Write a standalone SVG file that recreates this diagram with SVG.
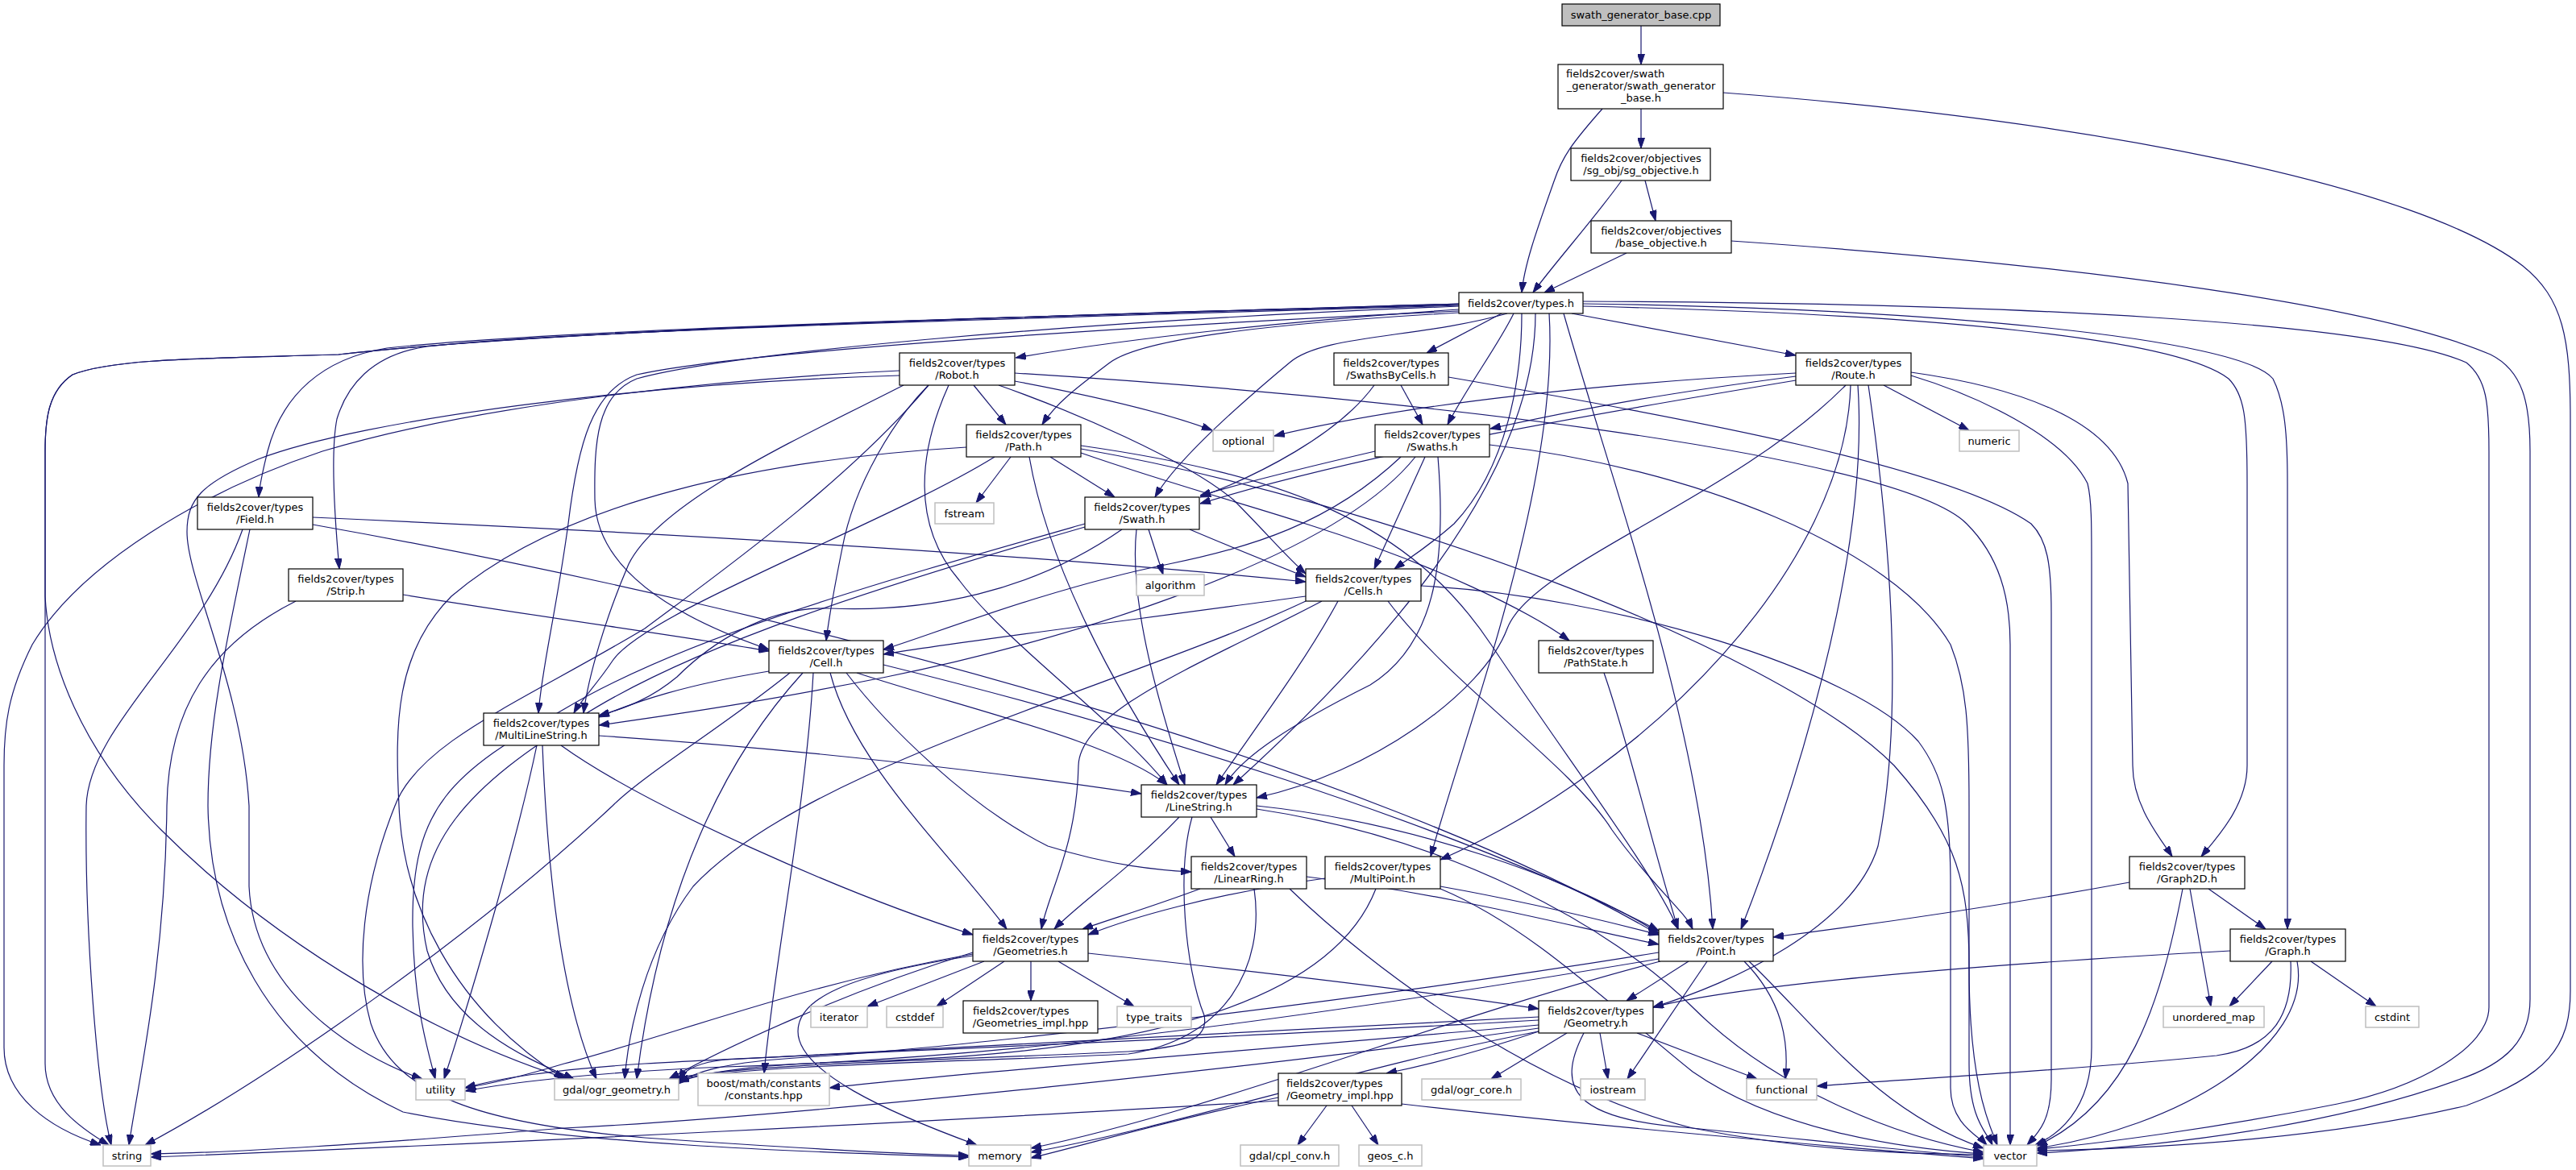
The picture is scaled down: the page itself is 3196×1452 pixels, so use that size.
<svg xmlns="http://www.w3.org/2000/svg" width="3196" height="1452" viewBox="0 0 3196 1452">
<defs>
<marker id="a" viewBox="0 0 13 9" refX="13" refY="4.5" markerWidth="13" markerHeight="9" markerUnits="userSpaceOnUse" orient="auto"><path d="M0,0 L13,4.5 L0,9 z" fill="#191970" stroke="#191970" stroke-width="1"/></marker>
<style>
.e path{fill:none;stroke:#191970;stroke-width:1.2;marker-end:url(#a)}
text{font-family:'DejaVu Sans','Liberation Sans',sans-serif;font-size:13px;text-anchor:middle;fill:#000}
.l{text-anchor:start}
.f{fill:#fff;stroke:#000;stroke-width:1.2}
.x{fill:#fff;stroke:#bfbfbf;stroke-width:1.5}
.r{fill:#bfbfbf;stroke:#000;stroke-width:1.2}
</style>
</defs>
<rect width="3196" height="1452" fill="#fff"/>
<g id="edges" class="e">
<path d="M2036,32 L2036,80"/>
<path d="M2036,135 L2036,184"/>
<path d="M1988,135 C1950,178 1938,195 1928,225 C1905,290 1891,330 1888,363"/>
<path d="M2138,115 C2600,150 3000,230 3130,330 C3180,370 3189,420 3189,520 L3189,1230 C3189,1300 3160,1335 3060,1372 C2900,1410 2700,1425 2527,1428"/>
<path d="M2041,224 L2054,274"/>
<path d="M2012,224 C1975,275 1930,325 1902,363"/>
<path d="M2018,314 L1916,363"/>
<path d="M2148,299 C2600,330 2950,380 3090,440 C3130,460 3139,500 3139,560 L3139,1240 C3139,1290 3110,1320 3050,1340 C2900,1395 2700,1422 2527,1431"/>
<path d="M1810,384 C1600,398 1400,420 1260,444"/>
<path d="M1863,389 L1770,438"/>
<path d="M1950,389 L2228,441"/>
<path d="M1810,388 C1600,400 1420,418 1377,450 C1340,478 1310,500 1293,527"/>
<path d="M1878,389 C1858,430 1820,480 1796,527"/>
<path d="M1870,389 C1760,420 1640,415 1600,450 C1540,500 1460,570 1433,617"/>
<path d="M1888,389 C1888,470 1870,580 1804,650 C1770,680 1745,695 1730,706"/>
<path d="M1810,380 C1300,400 900,440 790,470 C740,490 737,550 738,620 C740,700 820,760 954,806"/>
<path d="M1810,378 C1300,392 700,408 480,432 C400,445 350,490 332,560 C326,585 322,600 321,617"/>
<path d="M1810,379 C1300,394 700,410 530,430 C460,440 430,480 418,520 C410,560 415,640 421,706"/>
<path d="M1810,377 C1300,392 700,408 420,440 C250,445 140,445 90,465 C60,485 56,520 56,560 L56,1320 C56,1370 100,1400 135,1421"/>
<path d="M1810,377 C1300,392 700,408 420,440 C250,445 140,445 90,465 C60,485 56,520 56,560 L56,740 C60,820 100,930 200,1030 C350,1180 550,1290 705,1339"/>
<path d="M1810,386 C1300,410 900,440 790,465 C735,485 717,550 705,650 C690,760 672,830 668,885"/>
<path d="M1905,389 C1905,600 1700,820 1530,974"/>
<path d="M1922,389 C1935,600 1820,900 1775,1063"/>
<path d="M1940,389 C2000,600 2110,900 2125,1153"/>
<path d="M1964,380 C2400,390 2700,420 2765,470 C2785,490 2788,520 2788,600 L2788,950 C2788,1000 2750,1040 2731,1063"/>
<path d="M1964,377 C2400,383 2780,420 2820,470 C2835,500 2838,540 2838,600 L2838,1153"/>
<path d="M1964,374 C2500,376 2950,400 3060,450 C3085,470 3088,500 3088,560 L3088,1250 C3088,1300 3000,1350 2900,1370 C2750,1400 2600,1420 2527,1426"/>
<path d="M1208,478 L1248,527"/>
<path d="M1259,473 C1350,490 1440,510 1504,534"/>
<path d="M1239,478 C1330,510 1470,570 1530,620 C1570,660 1595,690 1620,712"/>
<path d="M1152,478 C1110,520 1060,600 1045,680 C1035,730 1028,770 1025,795"/>
<path d="M1121,478 C1000,540 820,620 780,700 C750,770 730,840 724,885"/>
<path d="M1177,478 C1140,560 1130,650 1190,720 C1250,800 1380,890 1448,974"/>
<path d="M1116,460 C900,470 600,500 400,560 C250,610 100,700 40,800 C10,860 5,900 5,950 L5,1300 C5,1360 60,1400 125,1421"/>
<path d="M1116,466 C800,475 450,520 320,570 C250,600 232,620 232,660 C232,720 300,850 309,1000 L309,1100 C315,1230 440,1310 524,1339"/>
<path d="M1152,478 C1050,600 880,720 800,780 C650,870 520,920 490,1000 C450,1100 440,1200 460,1270 C490,1360 600,1395 800,1412 C1000,1426 1120,1432 1202,1434"/>
<path d="M1259,463 C1700,490 2350,560 2440,650 C2480,690 2494,740 2494,800 L2494,1421"/>
<path d="M1738,478 L1765,527"/>
<path d="M1705,478 C1660,540 1560,590 1489,617"/>
<path d="M1797,468 C2100,520 2420,580 2520,650 C2540,670 2545,700 2545,760 L2545,1340 C2545,1390 2530,1405 2515,1421"/>
<path d="M2228,463 C2000,475 1750,500 1581,541"/>
<path d="M2228,467 C2050,490 1950,510 1849,532"/>
<path d="M2228,472 C2000,510 1700,560 1489,625"/>
<path d="M2337,478 L2443,534"/>
<path d="M2371,462 C2500,480 2620,520 2640,600 L2646,950 C2646,1000 2680,1040 2695,1063"/>
<path d="M2371,466 C2450,490 2560,540 2590,600 C2595,620 2595,650 2595,700 L2595,1300 C2595,1380 2550,1410 2525,1421"/>
<path d="M2290,478 C2150,620 1900,700 1870,780 C1840,860 1700,960 1559,990"/>
<path d="M2296,478 C2290,700 2050,950 1787,1067"/>
<path d="M2305,478 C2320,700 2220,1000 2160,1153"/>
<path d="M2318,478 C2350,700 2360,900 2330,1050 C2300,1150 2150,1220 2051,1250"/>
<path d="M1254,567 L1211,624"/>
<path d="M1303,567 L1383,617"/>
<path d="M1234,567 C1100,650 800,760 760,820 C740,850 720,870 712,885"/>
<path d="M1277,567 C1300,700 1380,850 1463,974"/>
<path d="M1341,562 C1450,600 1560,630 1620,650 C1780,700 1900,760 1947,795"/>
<path d="M1341,553 C1600,590 1750,650 1850,800 C1950,950 2050,1080 2082,1153"/>
<path d="M1341,557 C1700,620 2200,800 2350,950 C2430,1040 2443,1100 2443,1200 C2443,1350 2470,1400 2478,1421"/>
<path d="M1199,555 C950,570 700,620 560,740 C490,810 490,900 495,1000 C500,1120 560,1250 700,1339"/>
<path d="M1706,560 C1620,580 1540,600 1489,615"/>
<path d="M1768,567 L1705,706"/>
<path d="M1738,567 C1650,650 1550,680 1450,700 C1300,730 1150,790 1096,806"/>
<path d="M1784,567 C1795,700 1780,800 1700,850 C1600,900 1540,940 1520,974"/>
<path d="M1756,567 C1650,700 1300,800 1100,840 C950,870 850,885 743,900"/>
<path d="M1848,552 C2100,580 2350,680 2420,800 C2440,850 2443,900 2443,1000 L2443,1320 C2443,1390 2465,1405 2472,1421"/>
<path d="M388,642 C900,665 1300,690 1620,722"/>
<path d="M388,651 C1000,760 1700,950 2058,1160"/>
<path d="M301,657 C250,800 110,900 107,1000 C105,1150 120,1350 138,1421"/>
<path d="M310,657 C280,800 258,900 258,1000 C260,1150 330,1300 500,1380 C700,1420 1000,1430 1202,1436"/>
<path d="M1425,657 L1443,713"/>
<path d="M1476,657 C1530,680 1580,700 1620,716"/>
<path d="M1392,657 C1280,735 1150,760 1030,755 C950,752 880,800 840,840 C810,865 780,878 743,888"/>
<path d="M1410,657 C1400,750 1440,880 1470,974"/>
<path d="M1346,650 C1100,720 850,790 700,880 C560,960 510,1000 512,1150 C514,1250 530,1300 540,1339"/>
<path d="M1346,654 C1100,725 860,800 720,890 C590,970 500,1050 530,1180 C560,1280 670,1320 712,1339"/>
<path d="M500,738 C700,770 850,790 954,808"/>
<path d="M367,746 C260,800 209,880 207,1000 C205,1200 170,1350 160,1421"/>
<path d="M1620,740 C1400,770 1200,795 1096,812"/>
<path d="M1660,746 C1620,820 1560,900 1509,974"/>
<path d="M1640,746 C1500,820 1340,880 1338,950 C1336,1050 1300,1110 1292,1153"/>
<path d="M1722,746 C1800,850 1950,950 2000,1030 C2050,1100 2090,1130 2100,1153"/>
<path d="M1763,727 C2000,740 2300,830 2380,920 C2410,960 2420,1000 2420,1100 L2420,1350 C2420,1395 2455,1410 2465,1421"/>
<path d="M1620,746 C1400,850 1000,950 860,1100 C800,1180 780,1280 775,1339"/>
<path d="M954,833 C850,850 790,870 743,890"/>
<path d="M1063,835 C1200,880 1380,920 1448,974"/>
<path d="M1050,835 C1100,900 1200,1000 1300,1050 C1380,1075 1440,1080 1478,1082"/>
<path d="M1030,835 C1060,950 1180,1060 1249,1153"/>
<path d="M1096,825 C1400,900 1800,1020 2058,1155"/>
<path d="M996,835 C900,940 820,1100 790,1339"/>
<path d="M1009,835 C1000,1000 960,1200 948,1332"/>
<path d="M980,835 C900,900 800,960 760,1000 C600,1150 350,1330 180,1421"/>
<path d="M1990,835 C2020,920 2050,1050 2082,1153"/>
<path d="M743,913 C1000,930 1250,960 1416,985"/>
<path d="M696,925 C800,1000 1050,1110 1207,1160"/>
<path d="M666,925 C640,1050 580,1250 551,1339"/>
<path d="M673,925 C680,1100 700,1250 740,1339"/>
<path d="M1502,1014 L1532,1063"/>
<path d="M1463,1014 C1400,1080 1340,1120 1308,1153"/>
<path d="M1559,1000 C1750,1020 1950,1090 2058,1158"/>
<path d="M1479,1014 C1460,1080 1470,1200 1494,1260 C1500,1290 1470,1300 1400,1305 C1200,1315 950,1318 830,1339"/>
<path d="M1559,1004 C1800,1040 2000,1150 2100,1250 C2200,1350 2350,1410 2461,1430"/>
<path d="M1489,1103 C1430,1125 1380,1140 1343,1153"/>
<path d="M1621,1088 C1800,1110 1950,1150 2058,1172"/>
<path d="M1556,1103 C1570,1200 1520,1290 1400,1308 C1200,1318 950,1320 835,1340"/>
<path d="M1600,1103 C1700,1200 1900,1350 2100,1400 C2250,1430 2380,1432 2461,1433"/>
<path d="M1644,1090 C1500,1110 1400,1140 1350,1160"/>
<path d="M1787,1100 C1900,1120 2000,1145 2058,1160"/>
<path d="M1707,1103 C1650,1250 1400,1305 1100,1316 C950,1320 880,1328 842,1343"/>
<path d="M1787,1103 C1900,1150 2000,1250 2100,1330 C2200,1400 2350,1425 2461,1432"/>
<path d="M2642,1095 C2450,1130 2300,1150 2200,1163"/>
<path d="M2740,1103 L2811,1153"/>
<path d="M2717,1103 L2743,1249"/>
<path d="M2708,1103 C2680,1250 2640,1370 2527,1422"/>
<path d="M1221,1193 L1076,1249"/>
<path d="M1246,1193 L1162,1249"/>
<path d="M1279,1193 L1279,1242"/>
<path d="M1313,1193 L1407,1249"/>
<path d="M1350,1183 C1600,1210 1800,1235 1909,1252"/>
<path d="M1207,1182 C1050,1230 900,1300 830,1339"/>
<path d="M1207,1184 C1000,1220 850,1280 700,1320 C650,1335 610,1345 577,1350"/>
<path d="M1207,1186 C1050,1210 990,1240 990,1280 C990,1330 1100,1380 1212,1421"/>
<path d="M2095,1193 L2018,1242"/>
<path d="M2118,1193 L2019,1339"/>
<path d="M2164,1193 C2210,1240 2220,1290 2215,1339"/>
<path d="M2170,1193 C2260,1280 2330,1380 2461,1425"/>
<path d="M2058,1182 C1700,1240 1200,1300 1000,1312 C900,1318 860,1330 842,1345"/>
<path d="M2058,1190 C1700,1250 1300,1312 900,1324 C750,1330 640,1342 577,1354"/>
<path d="M2060,1193 C1800,1260 1500,1380 1279,1425"/>
<path d="M2819,1193 L2766,1249"/>
<path d="M2867,1193 L2948,1249"/>
<path d="M2842,1193 C2845,1260 2820,1300 2750,1310 C2550,1330 2350,1340 2254,1348"/>
<path d="M2850,1193 C2870,1300 2700,1400 2527,1425"/>
<path d="M2767,1180 C2400,1200 2150,1225 2051,1250"/>
<path d="M1909,1280 C1850,1300 1780,1320 1720,1332"/>
<path d="M1944,1282 L1850,1339"/>
<path d="M1985,1282 L1995,1339"/>
<path d="M2031,1282 L2180,1339"/>
<path d="M1965,1282 C1930,1350 1950,1390 2100,1400 C2250,1415 2380,1430 2461,1436"/>
<path d="M1909,1262 C1500,1285 1100,1305 900,1315 C870,1318 850,1326 842,1340"/>
<path d="M1909,1266 C1500,1290 1000,1308 800,1320 C680,1328 620,1338 577,1350"/>
<path d="M1909,1272 C1600,1300 1200,1330 1029,1350"/>
<path d="M1909,1276 C1600,1320 1000,1385 700,1400 C450,1420 300,1430 187,1432"/>
<path d="M1909,1280 C1700,1320 1450,1400 1279,1430"/>
<path d="M1646,1372 L1610,1421"/>
<path d="M1677,1372 L1710,1421"/>
<path d="M1739,1370 C2000,1400 2300,1425 2461,1438"/>
<path d="M1586,1362 C1450,1390 1350,1420 1279,1437"/>
<path d="M1586,1366 C1200,1390 600,1420 187,1436"/>
</g>
<g id="nodes">
<g id="n_cpp"><rect class="r" x="1938" y="5" width="196" height="27"/><text x="2036" y="23">swath_generator_base.cpp</text></g>
<g id="n_sgb"><rect class="f" x="1933" y="80" width="205" height="55"/><text class="l" x="1943" y="96">fields2cover/swath</text><text x="2036" y="111">_generator/swath_generator</text><text x="2036" y="126">_base.h</text></g>
<g id="n_sgo"><rect class="f" x="1949" y="184" width="173" height="40"/><text x="2036" y="200.5">fields2cover/objectives</text><text x="2036" y="215.5">/sg_obj/sg_objective.h</text></g>
<g id="n_bo"><rect class="f" x="1974" y="274" width="174" height="40"/><text x="2061" y="290.5">fields2cover/objectives</text><text x="2061" y="305.5">/base_objective.h</text></g>
<g id="n_types"><rect class="f" x="1810" y="363" width="154" height="26"/><text x="1887" y="380.5">fields2cover/types.h</text></g>
<g id="n_robot"><rect class="f" x="1116" y="438" width="143" height="40"/><text x="1187.5" y="454.5">fields2cover/types</text><text x="1187.5" y="469.5">/Robot.h</text></g>
<g id="n_sbc"><rect class="f" x="1655" y="438" width="142" height="40"/><text x="1726" y="454.5">fields2cover/types</text><text x="1726" y="469.5">/SwathsByCells.h</text></g>
<g id="n_route"><rect class="f" x="2228" y="438" width="143" height="40"/><text x="2299.5" y="454.5">fields2cover/types</text><text x="2299.5" y="469.5">/Route.h</text></g>
<g id="n_path"><rect class="f" x="1199" y="527" width="142" height="40"/><text x="1270" y="543.5">fields2cover/types</text><text x="1270" y="558.5">/Path.h</text></g>
<g id="n_optional"><rect class="x" x="1505" y="534" width="75" height="26"/><text x="1542.5" y="551.5">optional</text></g>
<g id="n_swaths"><rect class="f" x="1706" y="527" width="142" height="40"/><text x="1777" y="543.5">fields2cover/types</text><text x="1777" y="558.5">/Swaths.h</text></g>
<g id="n_numeric"><rect class="x" x="2431" y="534" width="74" height="26"/><text x="2468" y="551.5">numeric</text></g>
<g id="n_field"><rect class="f" x="245" y="617" width="143" height="40"/><text x="316.5" y="633.5">fields2cover/types</text><text x="316.5" y="648.5">/Field.h</text></g>
<g id="n_fstream"><rect class="x" x="1160" y="624" width="73" height="26"/><text x="1196.5" y="641.5">fstream</text></g>
<g id="n_swath"><rect class="f" x="1346" y="617" width="142" height="40"/><text x="1417" y="633.5">fields2cover/types</text><text x="1417" y="648.5">/Swath.h</text></g>
<g id="n_strip"><rect class="f" x="358" y="706" width="142" height="40"/><text x="429" y="722.5">fields2cover/types</text><text x="429" y="737.5">/Strip.h</text></g>
<g id="n_algorithm"><rect class="x" x="1410" y="713" width="84" height="26"/><text x="1452" y="730.5">algorithm</text></g>
<g id="n_cells"><rect class="f" x="1620" y="706" width="143" height="40"/><text x="1691.5" y="722.5">fields2cover/types</text><text x="1691.5" y="737.5">/Cells.h</text></g>
<g id="n_cell"><rect class="f" x="954" y="795" width="142" height="40"/><text x="1025" y="811.5">fields2cover/types</text><text x="1025" y="826.5">/Cell.h</text></g>
<g id="n_pathstate"><rect class="f" x="1909" y="795" width="142" height="40"/><text x="1980" y="811.5">fields2cover/types</text><text x="1980" y="826.5">/PathState.h</text></g>
<g id="n_mls"><rect class="f" x="600" y="885" width="143" height="40"/><text x="671.5" y="901.5">fields2cover/types</text><text x="671.5" y="916.5">/MultiLineString.h</text></g>
<g id="n_linestring"><rect class="f" x="1416" y="974" width="143" height="40"/><text x="1487.5" y="990.5">fields2cover/types</text><text x="1487.5" y="1005.5">/LineString.h</text></g>
<g id="n_linearring"><rect class="f" x="1478" y="1063" width="143" height="40"/><text x="1549.5" y="1079.5">fields2cover/types</text><text x="1549.5" y="1094.5">/LinearRing.h</text></g>
<g id="n_multipoint"><rect class="f" x="1644" y="1063" width="143" height="40"/><text x="1715.5" y="1079.5">fields2cover/types</text><text x="1715.5" y="1094.5">/MultiPoint.h</text></g>
<g id="n_graph2d"><rect class="f" x="2642" y="1063" width="143" height="40"/><text x="2713.5" y="1079.5">fields2cover/types</text><text x="2713.5" y="1094.5">/Graph2D.h</text></g>
<g id="n_geometries"><rect class="f" x="1207" y="1153" width="143" height="40"/><text x="1278.5" y="1169.5">fields2cover/types</text><text x="1278.5" y="1184.5">/Geometries.h</text></g>
<g id="n_point"><rect class="f" x="2058" y="1153" width="142" height="40"/><text x="2129" y="1169.5">fields2cover/types</text><text x="2129" y="1184.5">/Point.h</text></g>
<g id="n_graph"><rect class="f" x="2767" y="1153" width="143" height="40"/><text x="2838.5" y="1169.5">fields2cover/types</text><text x="2838.5" y="1184.5">/Graph.h</text></g>
<g id="n_iterator"><rect class="x" x="1006" y="1249" width="70" height="26"/><text x="1041" y="1266.5">iterator</text></g>
<g id="n_cstddef"><rect class="x" x="1100" y="1249" width="70" height="26"/><text x="1135" y="1266.5">cstddef</text></g>
<g id="n_geometries_impl"><rect class="f" x="1195" y="1242" width="167" height="40"/><text class="l" x="1207" y="1258.5">fields2cover/types</text><text x="1278.5" y="1273.5">/Geometries_impl.hpp</text></g>
<g id="n_type_traits"><rect class="x" x="1386" y="1249" width="92" height="26"/><text x="1432" y="1266.5">type_traits</text></g>
<g id="n_geometry"><rect class="f" x="1909" y="1242" width="142" height="40"/><text x="1980" y="1258.5">fields2cover/types</text><text x="1980" y="1273.5">/Geometry.h</text></g>
<g id="n_unordered_map"><rect class="x" x="2684" y="1249" width="125" height="26"/><text x="2746.5" y="1266.5">unordered_map</text></g>
<g id="n_cstdint"><rect class="x" x="2935" y="1249" width="66" height="26"/><text x="2968" y="1266.5">cstdint</text></g>
<g id="n_utility"><rect class="x" x="516" y="1339" width="61" height="26"/><text x="546.5" y="1356.5">utility</text></g>
<g id="n_ogr_geometry"><rect class="x" x="688" y="1339" width="154" height="26"/><text x="765" y="1356.5">gdal/ogr_geometry.h</text></g>
<g id="n_boost"><rect class="x" x="866" y="1332" width="163" height="40"/><text x="947.5" y="1348.5">boost/math/constants</text><text x="947.5" y="1363.5">/constants.hpp</text></g>
<g id="n_geometry_impl"><rect class="f" x="1586" y="1332" width="153" height="40"/><text class="l" x="1596" y="1348.5">fields2cover/types</text><text x="1662.5" y="1363.5">/Geometry_impl.hpp</text></g>
<g id="n_ogr_core"><rect class="x" x="1764" y="1339" width="123" height="26"/><text x="1825.5" y="1356.5">gdal/ogr_core.h</text></g>
<g id="n_iostream"><rect class="x" x="1961" y="1339" width="80" height="26"/><text x="2001" y="1356.5">iostream</text></g>
<g id="n_functional"><rect class="x" x="2167" y="1339" width="87" height="26"/><text x="2210.5" y="1356.5">functional</text></g>
<g id="n_string"><rect class="x" x="128" y="1421" width="59" height="26"/><text x="157.5" y="1438.5">string</text></g>
<g id="n_memory"><rect class="x" x="1202" y="1421" width="77" height="26"/><text x="1240.5" y="1438.5">memory</text></g>
<g id="n_cpl_conv"><rect class="x" x="1539" y="1421" width="122" height="26"/><text x="1600" y="1438.5">gdal/cpl_conv.h</text></g>
<g id="n_geos_c"><rect class="x" x="1686" y="1421" width="78" height="26"/><text x="1725" y="1438.5">geos_c.h</text></g>
<g id="n_vector"><rect class="x" x="2461" y="1421" width="66" height="26"/><text x="2494" y="1438.5">vector</text></g>
</g>
</svg>
